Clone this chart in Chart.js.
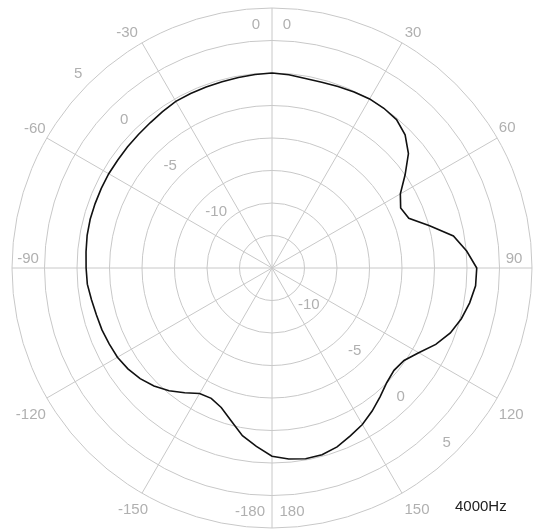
<!DOCTYPE html>
<html>
<head>
<meta charset="utf-8">
<title>Polar response 4000Hz</title>
<script src="https://cdn.jsdelivr.net/npm/chart.js@4/dist/chart.umd.min.js"></script>
<style>
    body { margin: 0; background: #fff; }
    .wrap { position: relative; width: 542px; height: 532px; }
    .freq-label {
        position: absolute;
        left: 455px;
        top: 497px;
        font: 15px "Liberation Sans", Arial, sans-serif;
        color: #222;
    }
</style>
</head>
<body>
<div class="wrap">
    <canvas id="polarChart" width="542" height="532"></canvas>
    <div class="freq-label">4000Hz</div>
</div>
<script>
// Measurement angles, 5 degree steps, clockwise from the front (0)
const angles = [
    0, 5, 10, 15, 20, 25, 30, 35, 40, 45, 50, 55,
    60, 65, 70, 75, 80, 85, 90, 95, 100, 105, 110, 115,
    120, 125, 130, 135, 140, 145, 150, 155, 160, 165, 170, 175,
    180, -175, -170, -165, -160, -155, -150, -145, -140, -135, -130, -125,
    -120, -115, -110, -105, -100, -95, -90, -85, -80, -75, -70, -65,
    -60, -55, -50, -45, -40, -35, -30, -25, -20, -15, -10, -5
];

// Relative level in dB at each angle
const levels4000 = [
    0.0, -0.08, -0.2, -0.2, -0.15, -0.06, 0.02, 0.0, -0.1, -0.52, -1.3, -2.5,
    -3.6, -4.08, -3.8, -2.45, -0.83, 0.03, 0.75, 0.72, 0.44, 0.08, -0.4, -1.1,
    -1.97, -2.6, -2.75, -2.52, -2.07, -1.57, -1.1, -0.75, -0.36, -0.13, -0.1, -0.25,
    -0.52, -1.23, -1.9, -2.84, -3.58, -3.94, -3.86, -3.29, -2.68, -2.16, -1.76, -1.47,
    -1.27, -1.18, -1.08, -1.02, -0.9, -0.74, -0.7, -0.64, -0.56, -0.52, -0.52, -0.51,
    -0.5, -0.52, -0.5, -0.47, -0.42, -0.32, -0.2, -0.19, -0.18, -0.16, -0.12, -0.06
];

// dB rings that get a printed value
const ringLabels = [-10, -5, 0, 5];

// Spoke labels, right half and left half
const spokesRight = ['0', '30', '60', '90', '120', '150', '180'];
const spokesLeft = ['0', '-30', '-60', '-90', '-120', '-150', '-180'];

const GRID = '#c8c8c8';
const TEXT = '#b0b0b0';
const FONT = '15px "Liberation Sans", Arial, sans-serif';

// text offsets from the outer ring end of each spoke
const rightOffsets = [[15, 17], [11, -10], [10, -10], [-18, -9], [14, 17], [15, 17], [20, -16]];
const leftOffsets = [[-16, 17], [-15, -10], [-12, -9], [16, -9], [-16, 17], [-9, 17], [-22, -16]];

const polarLabels = {
    id: 'polarLabels',
    afterDraw(chart) {
        const scale = chart.scales.r;
        const ctx = chart.ctx;
        ctx.save();
        ctx.font = FONT;
        ctx.fillStyle = TEXT;
        ctx.textAlign = 'center';
        ctx.textBaseline = 'middle';

        // angle labels around the rim
        spokesRight.forEach((t, i) => {
            const p = scale.getPointPosition(i * 6, scale.drawingArea);
            ctx.fillText(t, p.x + rightOffsets[i][0], p.y + rightOffsets[i][1]);
        });
        spokesLeft.forEach((t, i) => {
            const idx = i === 0 ? 0 : 72 - i * 6;
            const p = scale.getPointPosition(idx % 72, scale.drawingArea);
            ctx.fillText(t, p.x + leftOffsets[i][0], p.y + leftOffsets[i][1]);
        });

        // dB values along the -45 and 135 degree diagonals
        ringLabels.forEach(v => {
            const d = scale.getDistanceFromCenterForValue(v);
            const a = scale.getPointPosition(63, d + 14);
            ctx.fillText(String(v), a.x, a.y);
            const b = scale.getPointPosition(27, d - 13);
            ctx.fillText(String(v), b.x, b.y);
        });
        ctx.restore();
    }
};

new Chart(document.getElementById('polarChart'), {
    type: 'radar',
    data: {
        labels: angles,
        datasets: [{
            label: '4000Hz',
            data: levels4000,
            borderColor: '#111',
            borderWidth: 1.6,
            pointRadius: 0,
            fill: false,
            tension: 0
        }]
    },
    options: {
        responsive: false,
        animation: false,
        layout: {
            padding: { left: 12, right: 10, top: 8, bottom: 4 }
        },
        plugins: {
            legend: { display: false },
            tooltip: { enabled: false }
        },
        scales: {
            r: {
                min: -15,
                max: 5,
                ticks: {
                    stepSize: 2.5,
                    display: false
                },
                grid: {
                    circular: true,
                    color: GRID,
                    lineWidth: 1
                },
                angleLines: {
                    color: GRID,
                    lineWidth: (ctx) => ctx.index % 6 === 0 ? 1 : 0
                },
                pointLabels: { display: false }
            }
        }
    },
    plugins: [polarLabels]
});
</script>
</body>
</html>
